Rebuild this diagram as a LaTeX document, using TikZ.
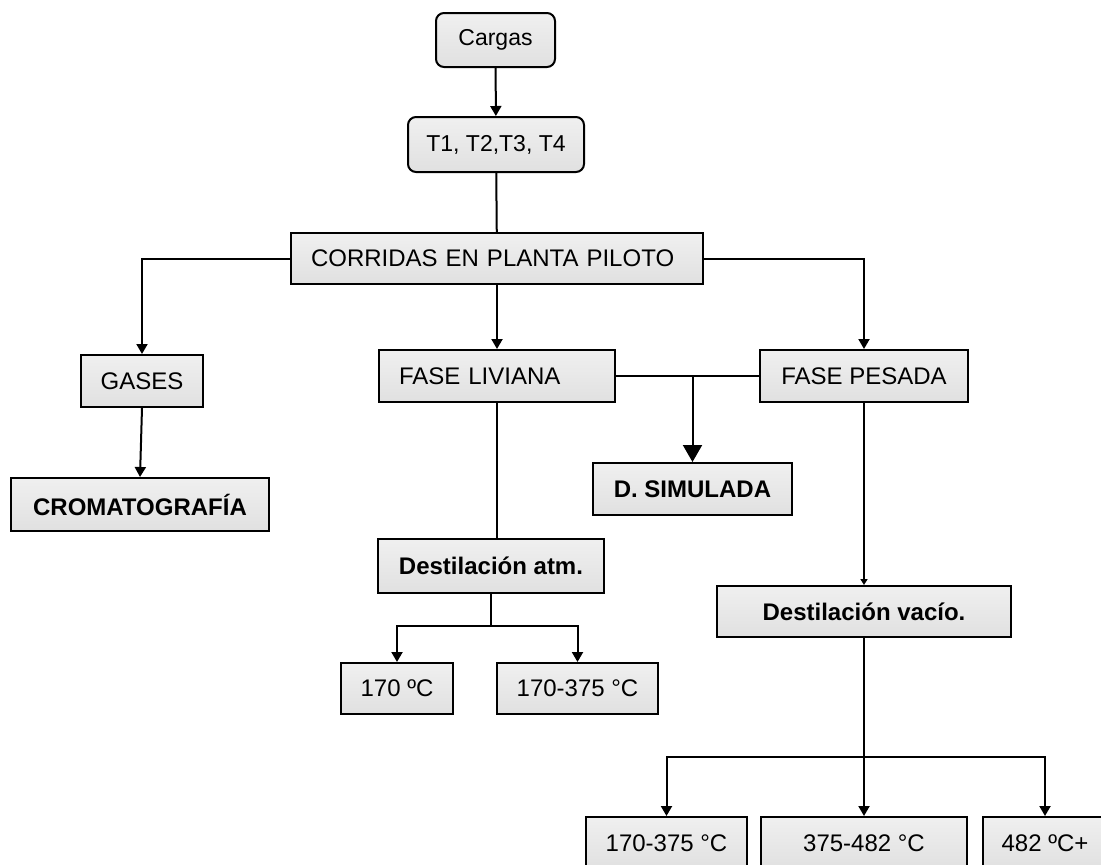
\documentclass[tikz,border=0pt]{standalone}
\usepackage{fontspec}
\setmainfont{Liberation Sans}
\usetikzlibrary{arrows.meta}

\begin{document}
\begin{tikzpicture}[x=1pt,y=-1pt,
  box/.style={draw=black, line width=2pt, rectangle, inner sep=0pt,
    top color=gray!12, middle color=white, bottom color=gray!24,
    font=\fontsize{24}{28}\selectfont},
  rbox/.style={box, rounded corners=8pt, font=\fontsize{23}{27}\selectfont},
  bbox/.style={box, font=\fontsize{24}{28}\selectfont\bfseries},
  lbox/.style={box, align=left, inner xsep=20pt},
  conn/.style={draw=black, line width=2pt},
  arr/.style={-{Triangle[length=10pt,width=11pt]}},
  bigarr/.style={-{Triangle[length=17pt,width=19pt]}},
  smallarr/.style={-{Triangle[length=6pt,width=7pt]}}]
\clip (0,0) rectangle (1101,865);
\fill[white] (0,0) rectangle (1101,865);

% top chain
\node[rbox, minimum width=119, minimum height=54] (cargas) at (495.5,40) {Cargas};
\node[rbox, minimum width=176, minimum height=55] (tt) at (496,144.5) {T1, T2,T3, T4};
\node[lbox, text width=372, minimum height=51] (corr) at (497,258.5) {CORRIDAS EN PLANTA PILOTO};

% second level
\node[box, minimum width=122, minimum height=52] (gases) at (142,381) {GASES};
\node[lbox, text width=196, minimum height=52] (liv) at (497,376) {FASE LIVIANA};
\node[box, minimum width=208, minimum height=52] (pes) at (864,376) {FASE PESADA};

% analyses
\node[bbox, minimum width=258, minimum height=53] (crom) at (140,504.5) {CROMATOGRAFÍA};
\node[bbox, minimum width=199, minimum height=52] (sim) at (692.5,489) {D. SIMULADA};
\node[bbox, minimum width=226, minimum height=54] (atm) at (491,566) {Destilación atm.};
\node[bbox, minimum width=294, minimum height=51] (vac) at (864,611.5) {Destilación vacío.};

% cuts from the atmospheric distillation
\node[box, minimum width=112, minimum height=51] (c170) at (397,688.5) {170 ºC};
\node[box, minimum width=161, minimum height=51] (cmid) at (577.5,688.5) {170-375 °C};

% cuts from the vacuum distillation
\node[box, minimum width=161, minimum height=52] (b1) at (666.5,843) {170-375 °C};
\node[box, minimum width=206, minimum height=52] (b2) at (864,843) {375-482 °C};
\node[box, minimum width=124, minimum height=52] (b3) at (1045,843) {482 ºC+};

% connectors
\draw[conn, arr] (cargas) -- (tt);
\draw[conn] (tt) -- (corr);
\draw[conn, arr] (corr) -- (liv);
\draw[conn, arr] (corr.west) -| (gases.north);
\draw[conn, arr] (corr.east) -| (pes.north);
\draw[conn, arr] (gases.south) -- (crom.north);

\draw[conn] (liv.east) -- (pes.west);
\coordinate (sj) at (692.5,376);
\draw[conn, bigarr] (sj) -- (sim.north);

\draw[conn] (liv.south) -- (liv.south |- atm.north);
\coordinate (aj) at (491,626);
\draw[conn] (atm.south) -- (aj);
\draw[conn, arr] (aj) -| (c170.north);
\draw[conn, arr] (aj) -| (cmid.north);

\draw[conn, smallarr] (pes.south) -- (vac.north);
\coordinate (vj) at (864,757);
\draw[conn] (vac.south) -- (vj);
\draw[conn, arr] (vj) -| (b1.north);
\draw[conn, arr] (vj) -- (b2.north);
\draw[conn, arr] (vj) -| (b3.north);
\end{tikzpicture}
\end{document}
